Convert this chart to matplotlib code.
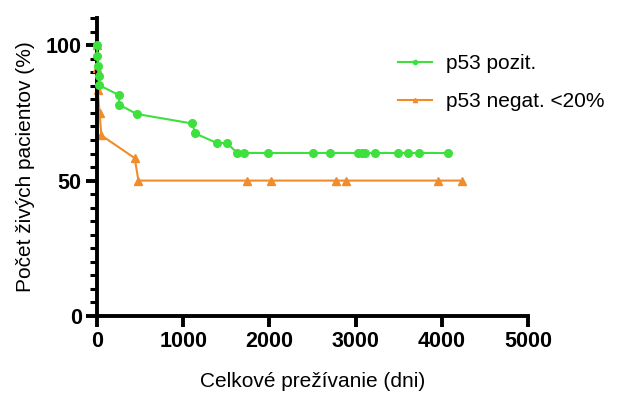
import matplotlib
matplotlib.use("Agg")
import matplotlib.pyplot as plt
from matplotlib.ticker import MultipleLocator

plt.rcParams['font.family'] = ['Liberation Sans', 'DejaVu Sans']

# p53 pozit.
pos_days = [0, 5, 10, 18, 28, 252, 259, 460, 1102, 1141, 1388, 1505, 1628, 1705, 1988,
            2510, 2703, 3032, 3070, 3109, 3225, 3488, 3612, 3735, 4076]
pos_surv = [100, 96.0, 92.3, 88.6, 85.2, 81.6, 78.0, 74.6, 71.1, 67.4, 63.9, 63.9, 60.2, 60.2, 60.2,
            60.2, 60.2, 60.2, 60.2, 60.2, 60.2, 60.2, 60.2, 60.2, 60.2]

# p53 negat. <20%
neg_days = [0, 3, 8, 30, 50, 437, 480, 1737, 2019, 2773, 2889, 3960, 4238]
neg_surv = [100, 91.7, 83.3, 75.0, 66.7, 58.3, 50.0, 50.0, 50.0, 50.0, 50.0, 50.0, 50.0]

labels = ['p53 pozit.', 'p53 negat. <20%']
colors = ['#3DE03D', '#F08C2A']

fig = plt.figure(figsize=(6.22, 3.94), dpi=100)
ax = fig.add_axes([0.156, 0.198, 0.693, 0.756])

ax.plot(pos_days, pos_surv, color=colors[0], marker='o', markersize=5.5, lw=1.5,
        label=labels[0], clip_on=False, zorder=3)
ax.plot(neg_days, neg_surv, color=colors[1], marker='^', markersize=5.5, lw=1.5,
        label=labels[1], clip_on=False, zorder=2)

ax.set_xlim(0, 5000)
ax.set_ylim(0, 110)
ax.xaxis.set_major_locator(MultipleLocator(1000))
ax.yaxis.set_major_locator(MultipleLocator(50))
ax.yaxis.set_minor_locator(MultipleLocator(5))

for s in ['top', 'right']:
    ax.spines[s].set_visible(False)
for s in ['left', 'bottom']:
    ax.spines[s].set_linewidth(2.8)

ax.tick_params(axis='both', which='major', width=2.8, length=8, labelsize=15.5, pad=3)
ax.tick_params(axis='y', which='minor', width=2.2, length=5)
for lab in ax.get_xticklabels() + ax.get_yticklabels():
    lab.set_fontweight('bold')

ax.set_xlabel('Celkové prežívanie (dni)', fontsize=15, labelpad=14)
ax.set_ylabel('Počet živých pacientov (%)', fontsize=15, labelpad=8)

fig.legend(*ax.get_legend_handles_labels(), loc='upper left', bbox_to_anchor=(0.61, 0.91),
           frameon=False, fontsize=15, markerscale=0.55, handlelength=1.6, handletextpad=0.7,
           labelspacing=0.9, borderpad=0.4)

fig.savefig('out.png', dpi=100)
